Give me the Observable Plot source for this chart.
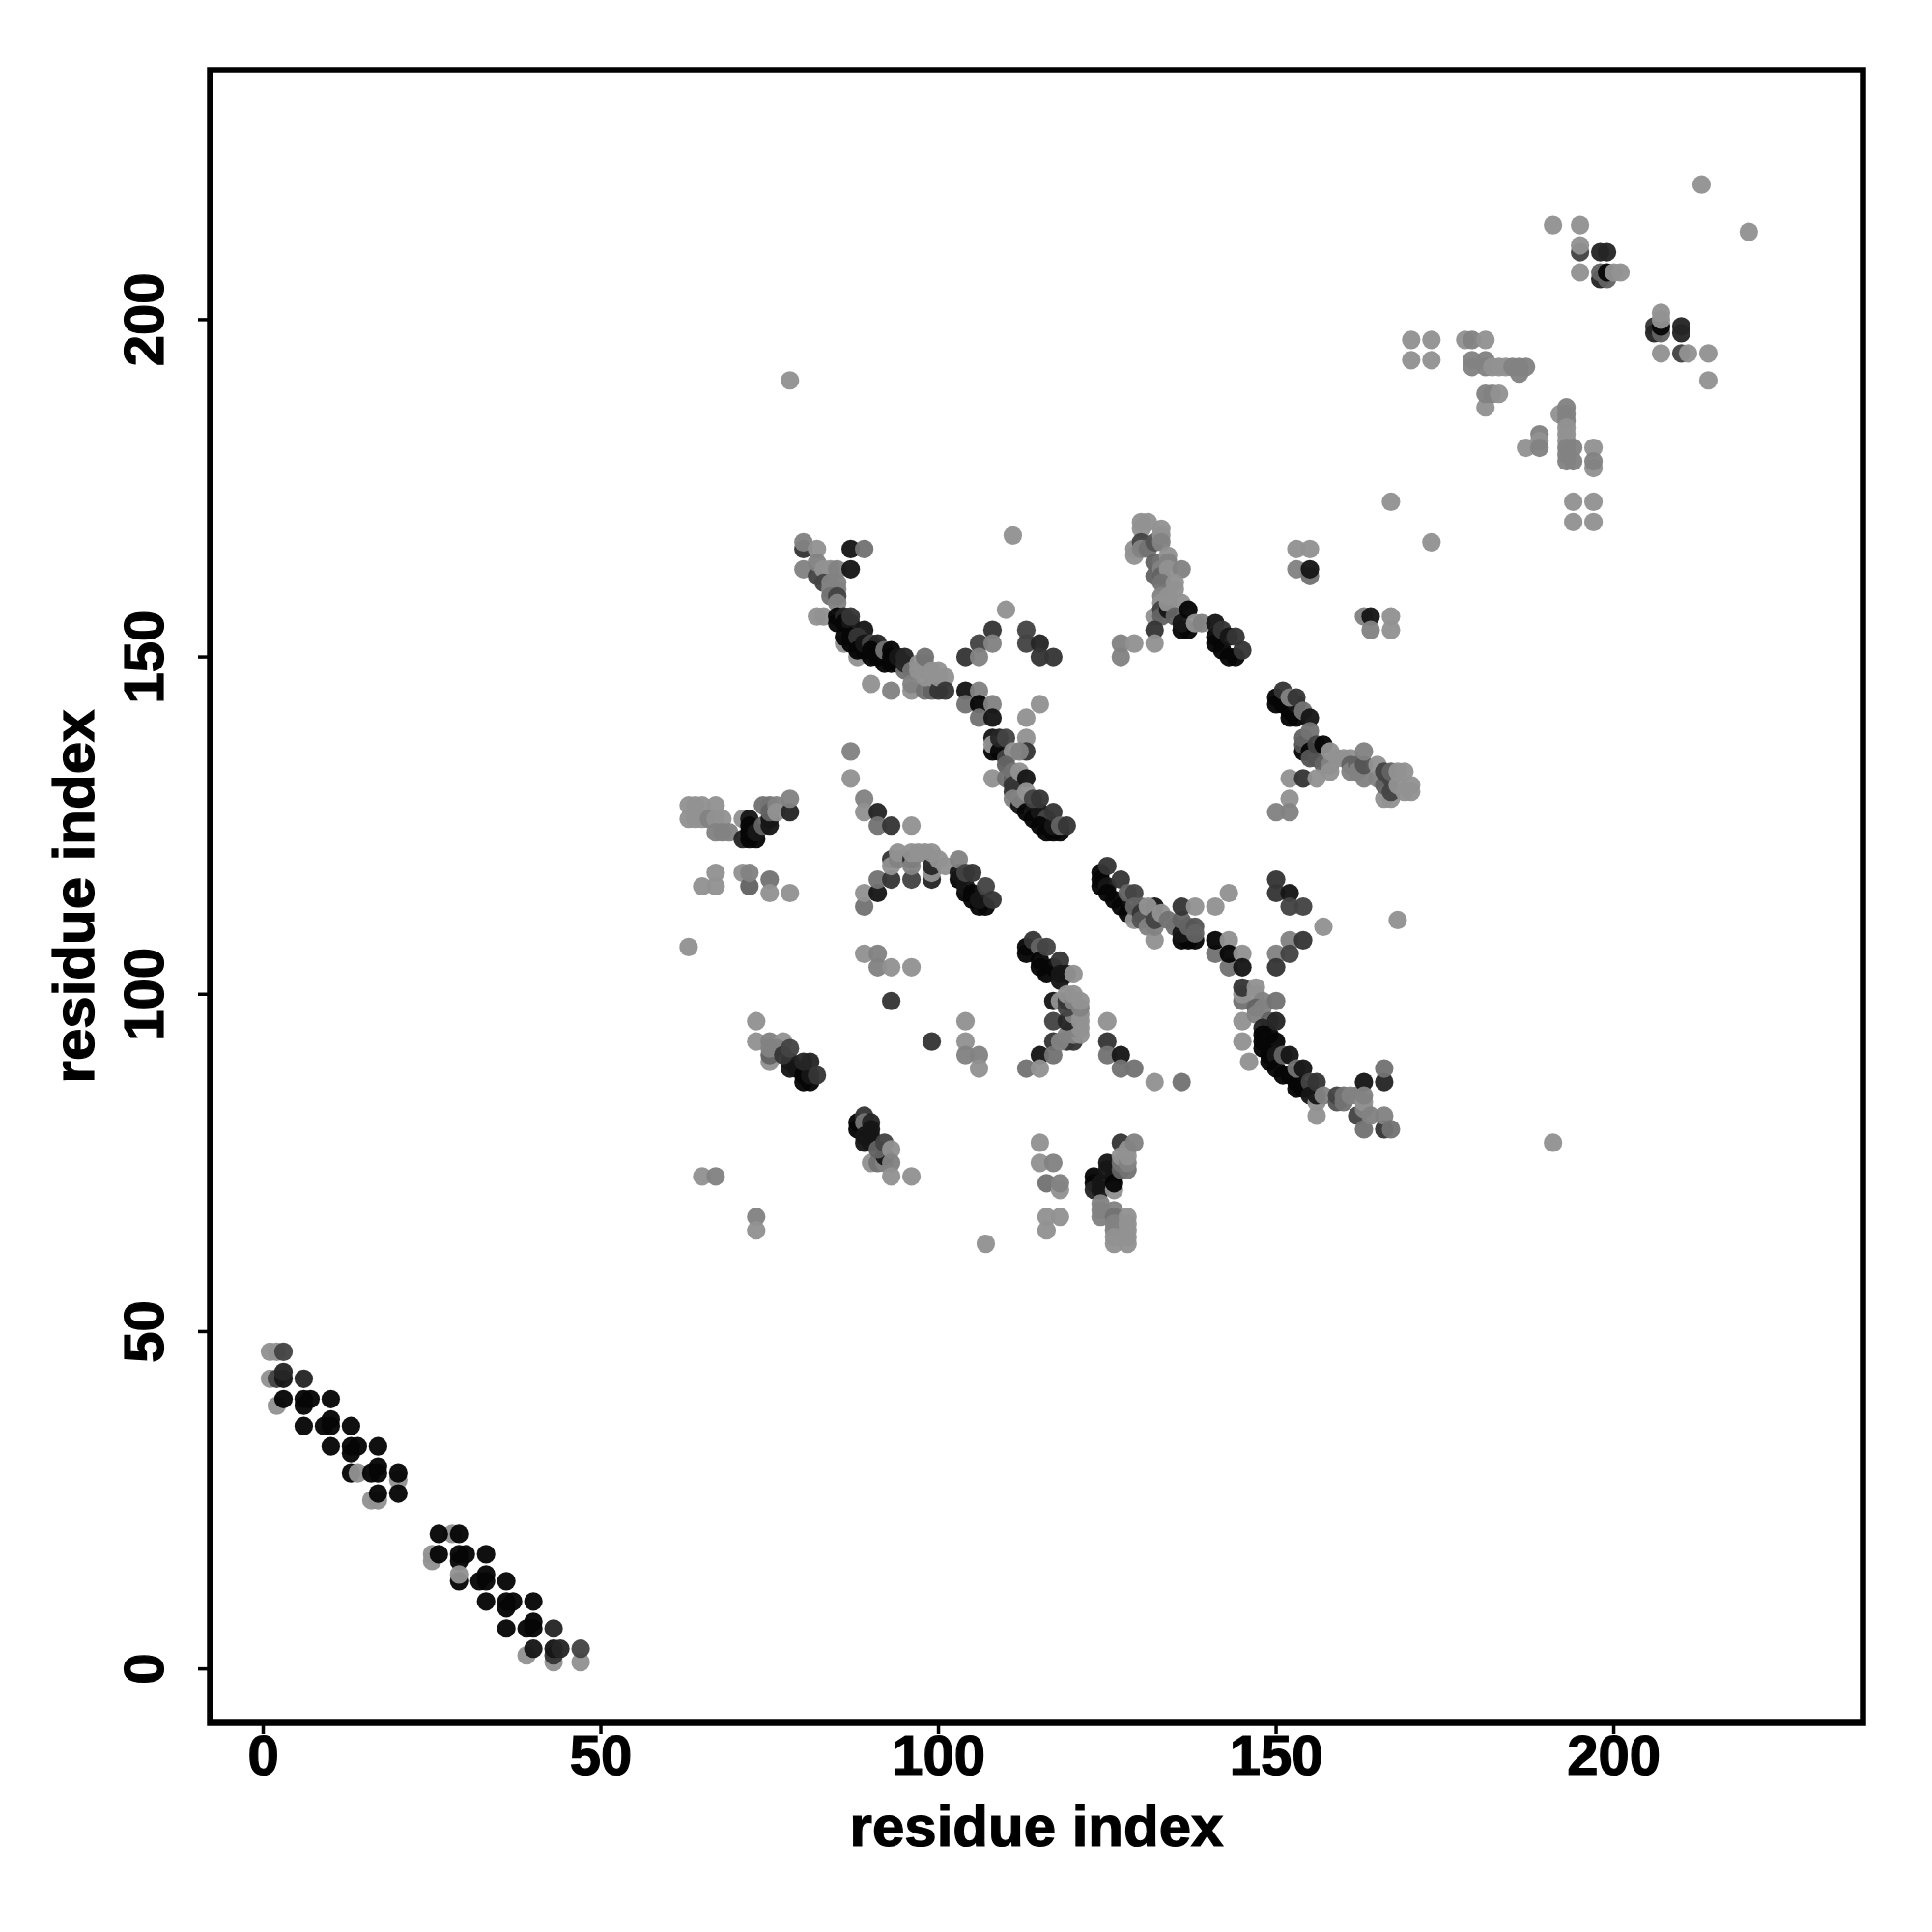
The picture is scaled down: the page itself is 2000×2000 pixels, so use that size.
<!DOCTYPE html>
<html>
<head>
<meta charset="utf-8">
<script src="https://cdn.jsdelivr.net/npm/d3@7"></script>
<script src="https://cdn.jsdelivr.net/npm/@observablehq/plot@0.6"></script>
<style>body{margin:0;background:#fff} svg text{stroke:#000;stroke-width:1.2px}</style>
</head>
<body>
<div id="chart"></div>
<script>
// each contact: [residue x, residue y, strength level 0 (weak) .. 9 (strong)]
const hairpinA = [[1,47,0],[2,47,0],[3,47,5],[1,43,0],[2,43,5],[3,43,8],[3,44,7],[6,43,7],[2,39,0],[3,40,9],[6,40,9],[6,39,9],[7,40,9],[10,40,9],[6,36,9],[9,36,9],[10,37,9],[10,36,9],[13,36,9],[10,33,9],[13,33,9],[13,32,9],[14,33,9],[17,33,9],[13,29,9],[14,29,0],[16,29,9],[17,30,9],[17,29,9],[20,28,0],[20,29,9],[16,25,0],[17,25,0],[17,26,9],[20,26,9]];
const hairpinB = [[25,17,0],[25,16,0],[28,20,0],[26,20,9],[29,20,9],[26,17,9],[29,17,9],[30,17,9],[29,16,9],[33,17,9],[29,13,9],[29,14,0],[32,13,9],[33,14,9],[33,13,9],[36,13,9],[33,10,9],[36,10,9],[36,9,9],[37,10,9],[40,10,9],[36,6,9],[39,6,9],[40,7,9],[40,6,9],[43,6,7],[39,2,0],[40,3,8],[43,1,0],[43,2,6],[43,3,8],[44,3,7],[47,1,0],[47,3,5]];
const bandLeft = [[63,128,0],[64,128,0],[65,128,0],[67,128,0],[63,126,0],[64,126,0],[65,126,0],[66,126,1],[67,126,0],[68,126,0],[67,124,1],[68,124,1],[69,124,1],[71,126,0],[71,123,7],[72,123,9],[73,123,9],[72,126,8],[72,125,9],[72,124,9],[73,124,8],[74,125,3],[75,125,8],[75,126,8],[74,128,2],[75,128,2],[75,127,3],[76,128,1],[76,127,0],[78,127,7],[78,129,1],[67,118,0],[65,116,0],[67,116,0],[71,118,0],[72,116,3],[72,118,1],[75,117,2],[75,115,0],[78,115,0],[63,107,0],[65,73,0],[67,73,1],[73,67,1],[73,65,0],[78,191,0]];
const band73 = [[73,96,0],[73,93,0],[75,90,0],[75,91,3],[75,93,1],[77,93,0],[75,92,1],[76,92,1],[78,89,8],[78,90,8],[77,91,6],[78,92,5],[79,89,8],[80,87,9],[81,87,9],[80,88,9],[81,88,8],[80,90,7],[81,90,7],[82,88,6]];
const band88 = [[88,81,9],[88,80,9],[89,82,6],[89,81,2],[89,79,8],[90,81,7],[90,80,8],[90,79,8],[90,75,0],[89,78,8],[90,78,8],[91,75,2],[92,75,1],[92,76,8],[91,77,3],[92,78,5],[93,77,0],[93,75,1],[93,73,0],[96,73,0]];
const bandUpper = [[80,166,6],[80,167,1],[82,166,0],[80,163,1],[82,162,5],[82,164,1],[83,163,0],[84,163,0],[85,163,1],[83,161,5],[84,161,1],[84,160,1],[85,161,1],[85,160,1],[84,159,2],[85,159,5],[85,158,1],[82,156,0],[83,156,0],[87,166,8],[89,166,2],[87,163,8],[86,152,0],[88,150,0],[85,155,9],[85,156,9],[86,156,7],[86,155,9],[87,155,8],[87,156,6],[89,154,8],[86,153,9],[87,153,9],[87,152,9],[88,153,6],[88,151,9],[89,151,9],[89,152,8],[90,152,5],[91,152,7],[90,150,9],[90,151,9],[91,150,9],[92,149,9],[92,151,2],[93,151,9],[93,149,9],[94,149,9],[93,150,9],[94,150,8],[95,148,2],[95,149,7],[95,150,7],[96,148,2],[90,146,0],[93,145,1],[96,145,0],[96,146,1],[97,149,0],[97,148,0],[98,149,0],[98,150,2],[98,145,2],[99,145,3],[98,147,0],[99,147,0],[100,145,6],[99,148,0],[100,148,0]];
const bandMid = [[87,136,1],[87,132,0],[89,129,1],[89,127,0],[91,127,7],[91,125,2],[93,125,6],[96,125,0],[89,113,2],[89,115,0],[91,115,8],[91,117,2],[93,117,6],[93,120,6],[93,119,0],[94,120,1],[94,121,0],[96,117,5],[96,120,7],[96,119,1],[96,121,0],[97,121,0],[98,121,0],[99,117,7],[99,118,0],[99,119,7],[99,121,0],[100,120,0],[101,119,0],[103,117,9],[103,118,8],[104,115,9],[104,116,8],[103,120,1],[105,114,9],[105,115,9],[106,113,9],[107,113,9],[106,114,8],[104,118,5],[105,118,6],[107,116,5],[108,114,6],[89,106,0],[91,106,1],[91,104,1],[93,104,0],[96,104,0],[93,99,6],[99,93,6],[104,96,0],[104,93,0],[104,91,1],[106,91,1],[106,89,0],[107,63,0],[101,147,0],[100,147,0],[101,145,6],[104,145,8],[106,145,1],[104,143,2],[106,143,9],[108,143,1],[106,141,2],[108,141,8],[111,168,0],[110,157,0],[108,154,6],[106,152,5],[108,152,1],[104,150,6],[106,150,1],[113,154,5],[113,152,5],[115,152,7],[115,150,6],[117,150,6],[115,143,0],[113,141,0],[113,138,0],[113,136,6]];
const band108 = [[108,136,9],[108,138,8],[108,137,0],[109,136,9],[109,138,7],[110,138,5],[110,135,5],[111,136,0],[112,136,1],[108,132,0],[110,134,3],[110,132,2],[111,132,3],[111,133,2],[111,131,6],[111,130,6],[111,129,1],[112,133,0],[113,132,8],[112,128,8],[112,129,1],[113,130,0],[113,127,9],[114,127,8],[114,126,9],[115,127,8],[114,129,5],[115,129,6],[116,126,5],[115,125,9],[116,124,9],[117,124,9],[118,124,9],[117,125,8],[117,127,6],[118,125,3],[119,125,6]];
const band113 = [[113,107,9],[113,106,9],[114,108,6],[115,107,3],[115,105,9],[115,104,9],[116,107,5],[116,103,9],[117,104,9],[118,105,6],[117,99,8],[118,103,8],[119,103,8],[118,102,8],[120,103,0],[118,99,0],[117,96,5],[117,93,6],[115,91,8],[117,91,2],[113,89,2],[115,89,0],[119,93,6],[120,93,6],[118,93,1],[119,94,1],[120,94,1],[121,94,0],[120,95,1],[121,95,0],[119,96,7],[120,97,1],[121,96,0],[121,97,0],[119,98,5],[121,98,1],[119,99,6],[119,100,0],[120,99,1],[120,100,0],[121,99,0]];
const bandCentre = [[124,118,9],[124,117,9],[124,116,9],[125,116,8],[125,115,9],[125,119,6],[127,117,6],[126,114,9],[127,113,9],[128,112,9],[129,111,0],[128,115,3],[129,115,5],[129,113,3],[130,113,3],[130,112,6],[130,111,4],[131,110,1],[132,113,8],[131,113,0],[132,108,0],[132,110,1],[132,111,5],[133,112,0],[134,111,2],[135,110,2],[136,108,9],[137,108,9],[138,108,9],[136,109,8],[136,111,3],[136,113,6],[138,113,0],[137,110,3],[138,110,4],[138,109,3],[141,113,0],[143,115,0],[141,106,2],[141,108,9],[143,108,0],[143,104,2],[143,106,9],[145,106,0],[145,104,8],[125,96,0],[125,93,6],[125,91,2],[127,91,8],[127,89,2],[129,89,2],[132,87,0],[136,87,2],[150,117,6],[150,115,6],[152,115,8],[152,113,5],[154,113,5],[157,110,0],[168,111,0],[152,108,1],[154,108,6],[150,106,1],[152,106,5],[150,104,6]];
const bandLower = [[145,99,2],[145,100,0],[145,101,6],[147,101,0],[147,100,0],[145,96,0],[145,93,0],[146,90,0],[148,99,1],[147,98,3],[147,97,1],[148,98,1],[150,99,2],[149,96,3],[148,95,7],[148,94,9],[148,93,9],[148,92,9],[149,94,9],[150,96,7],[150,93,9],[149,91,9],[149,90,9],[150,91,8],[150,89,9],[151,88,9],[152,88,9],[151,91,3],[152,91,8],[153,87,9],[153,86,9],[154,86,9],[153,89,2],[154,89,8],[155,87,5],[155,85,8],[156,84,0],[156,82,0],[156,85,8],[156,87,6],[157,85,1],[159,84,4],[159,85,5],[160,84,2],[160,85,2],[161,85,1],[162,85,1],[163,87,8],[166,87,7],[166,89,2],[162,82,5],[163,80,2],[163,83,1],[163,84,0],[163,85,1],[164,82,1],[166,80,6],[166,82,1],[167,80,2]];
const bandLowerRight = [[115,78,0],[115,75,0],[117,75,1],[116,72,2],[118,71,0],[118,72,1],[116,67,0],[118,67,0],[116,65,0],[123,73,9],[123,72,9],[123,71,7],[124,71,8],[124,72,8],[125,75,8],[125,74,8],[126,73,8],[126,71,0],[126,72,9],[127,74,3],[127,78,6],[127,75,2],[127,76,0],[128,74,2],[128,75,1],[128,76,0],[128,77,0],[129,78,1],[124,69,1],[124,68,1],[124,67,1],[126,68,1],[126,67,2],[126,66,1],[126,65,1],[126,64,0],[126,63,0],[128,67,0],[128,66,0],[128,65,0],[128,64,0],[128,63,0]];
const bandTop = [[129,166,0],[129,165,0],[130,170,0],[131,170,0],[130,169,0],[130,167,5],[130,166,1],[131,166,2],[132,167,4],[133,169,0],[133,168,0],[133,167,1],[132,164,3],[132,162,3],[133,164,2],[133,163,1],[133,162,3],[134,165,0],[134,164,1],[134,163,0],[136,163,1],[133,161,2],[135,161,0],[135,160,0],[133,159,1],[133,158,0],[132,156,0],[133,157,5],[133,156,3],[134,157,8],[134,158,0],[134,159,0],[136,158,0],[135,156,3],[136,154,9],[137,154,9],[136,155,8],[137,157,9],[138,155,0],[139,155,1],[132,154,6],[132,152,0],[127,152,1],[129,152,0],[127,150,1],[141,152,9],[141,153,9],[141,155,8],[142,151,9],[143,150,9],[144,150,9],[142,154,6],[143,153,8],[144,153,6],[145,151,6],[153,166,0],[155,166,0],[153,163,1],[155,162,2],[155,163,8],[163,156,1],[164,156,8],[164,154,1],[167,156,0],[167,154,0],[167,173,0],[173,167,0]];
const bandRight = [[150,144,9],[150,143,9],[151,143,9],[151,145,6],[152,142,9],[152,141,9],[153,141,9],[153,143,8],[152,144,1],[153,144,6],[154,142,2],[155,141,8],[154,136,9],[154,137,4],[154,138,3],[155,139,2],[155,136,9],[155,135,4],[156,135,4],[156,137,5],[157,137,9],[157,134,3],[158,134,1],[158,133,0],[158,136,0],[159,135,0],[160,135,0],[161,135,0],[161,134,3],[161,133,1],[152,132,0],[154,132,6],[156,132,0],[162,134,3],[162,133,1],[163,132,1],[163,134,4],[163,136,1],[165,132,1],[165,134,0],[166,129,0],[167,129,0],[166,131,3],[167,130,5],[166,133,5],[167,132,5],[167,133,3],[168,133,0],[169,133,0],[168,131,0],[169,130,0],[170,131,0],[170,130,0],[152,129,0],[150,127,1],[152,127,1]];
const bandFar = [[213,220,0],[220,213,0],[191,214,0],[195,214,0],[195,210,5],[195,211,0],[195,207,0],[198,210,7],[199,210,7],[198,206,7],[199,206,3],[198,207,3],[199,207,9],[200,207,0],[201,207,0],[206,199,6],[206,198,7],[207,198,3],[207,199,9],[207,200,0],[207,201,0],[210,199,7],[210,198,7],[207,195,0],[210,195,5],[211,195,0],[214,195,0],[214,191,0],[170,197,0],[173,197,0],[170,194,0],[173,194,0],[178,197,0],[179,197,1],[181,197,0],[179,194,1],[179,193,1],[181,194,1],[181,193,1],[182,193,0],[183,193,0],[184,193,0],[185,193,1],[186,192,1],[186,193,1],[187,193,1],[181,187,0],[181,189,1],[182,189,1],[183,189,0],[192,186,0],[193,187,1],[193,186,1],[193,185,1],[193,184,0],[193,183,0],[193,182,0],[193,181,1],[193,180,1],[193,179,1],[194,181,1],[194,179,1],[187,181,0],[189,183,1],[189,182,0],[189,181,1],[197,181,0],[197,178,0],[197,179,1],[194,173,0],[197,173,0],[194,170,0],[197,170,0],[191,78,0]];

const xTicks = [0, 50, 100, 150, 200];
const yTicks = [0, 50, 100, 150, 200];
const axisTitle = "residue index";

const contacts = [hairpinA, hairpinB, bandLeft, band73, band88, bandUpper, bandMid, band108, band113, bandCentre, bandLower, bandLowerRight, bandTop, bandRight, bandFar].flat();

const chart = Plot.plot({
  width: 2000,
  height: 2000,
  marginLeft: 217,
  marginRight: 72,
  marginTop: 72,
  marginBottom: 217,
  style: {fontFamily: "'Liberation Sans', Arial, sans-serif", background: "#fff", overflow: "visible"},
  x: {domain: [-7.87, 236.9]},
  y: {domain: [-8, 237]},
  color: {type: "linear", domain: [0, 9], range: ["#929292", "#060606"]},
  marks: [
    Plot.dot(contacts, {x: d => d[0], y: d => d[1], fill: d => d[2], r: 9.6, fillOpacity: 0.96}),
    Plot.frame({stroke: "#000", strokeWidth: 6.5}),
    Plot.axisX({ticks: xTicks, tickSize: 12, tickPadding: 0, strokeWidth: 3.5, fontSize: 58, fontWeight: "bold", tickFormat: d => String(d), label: null, color: "#000", fill: "#000"}),
    Plot.axisX({ticks: [], fontSize: 60, fontWeight: "bold", label: axisTitle, labelAnchor: "center", labelArrow: "none", labelOffset: 127, color: "#000", fill: "#000"}),
    Plot.axisY({ticks: yTicks, tickSize: 12, tickPadding: 37, strokeWidth: 3.5, fontSize: 58, fontWeight: "bold", tickRotate: -90, textAnchor: "middle", tickFormat: d => String(d), label: null, color: "#000", fill: "#000"}),
    Plot.axisY({ticks: [], fontSize: 60, fontWeight: "bold", label: axisTitle, labelAnchor: "center", labelArrow: "none", labelOffset: 163, color: "#000", fill: "#000"})
  ]
});
document.getElementById("chart").appendChild(chart);
</script>
</body>
</html>
